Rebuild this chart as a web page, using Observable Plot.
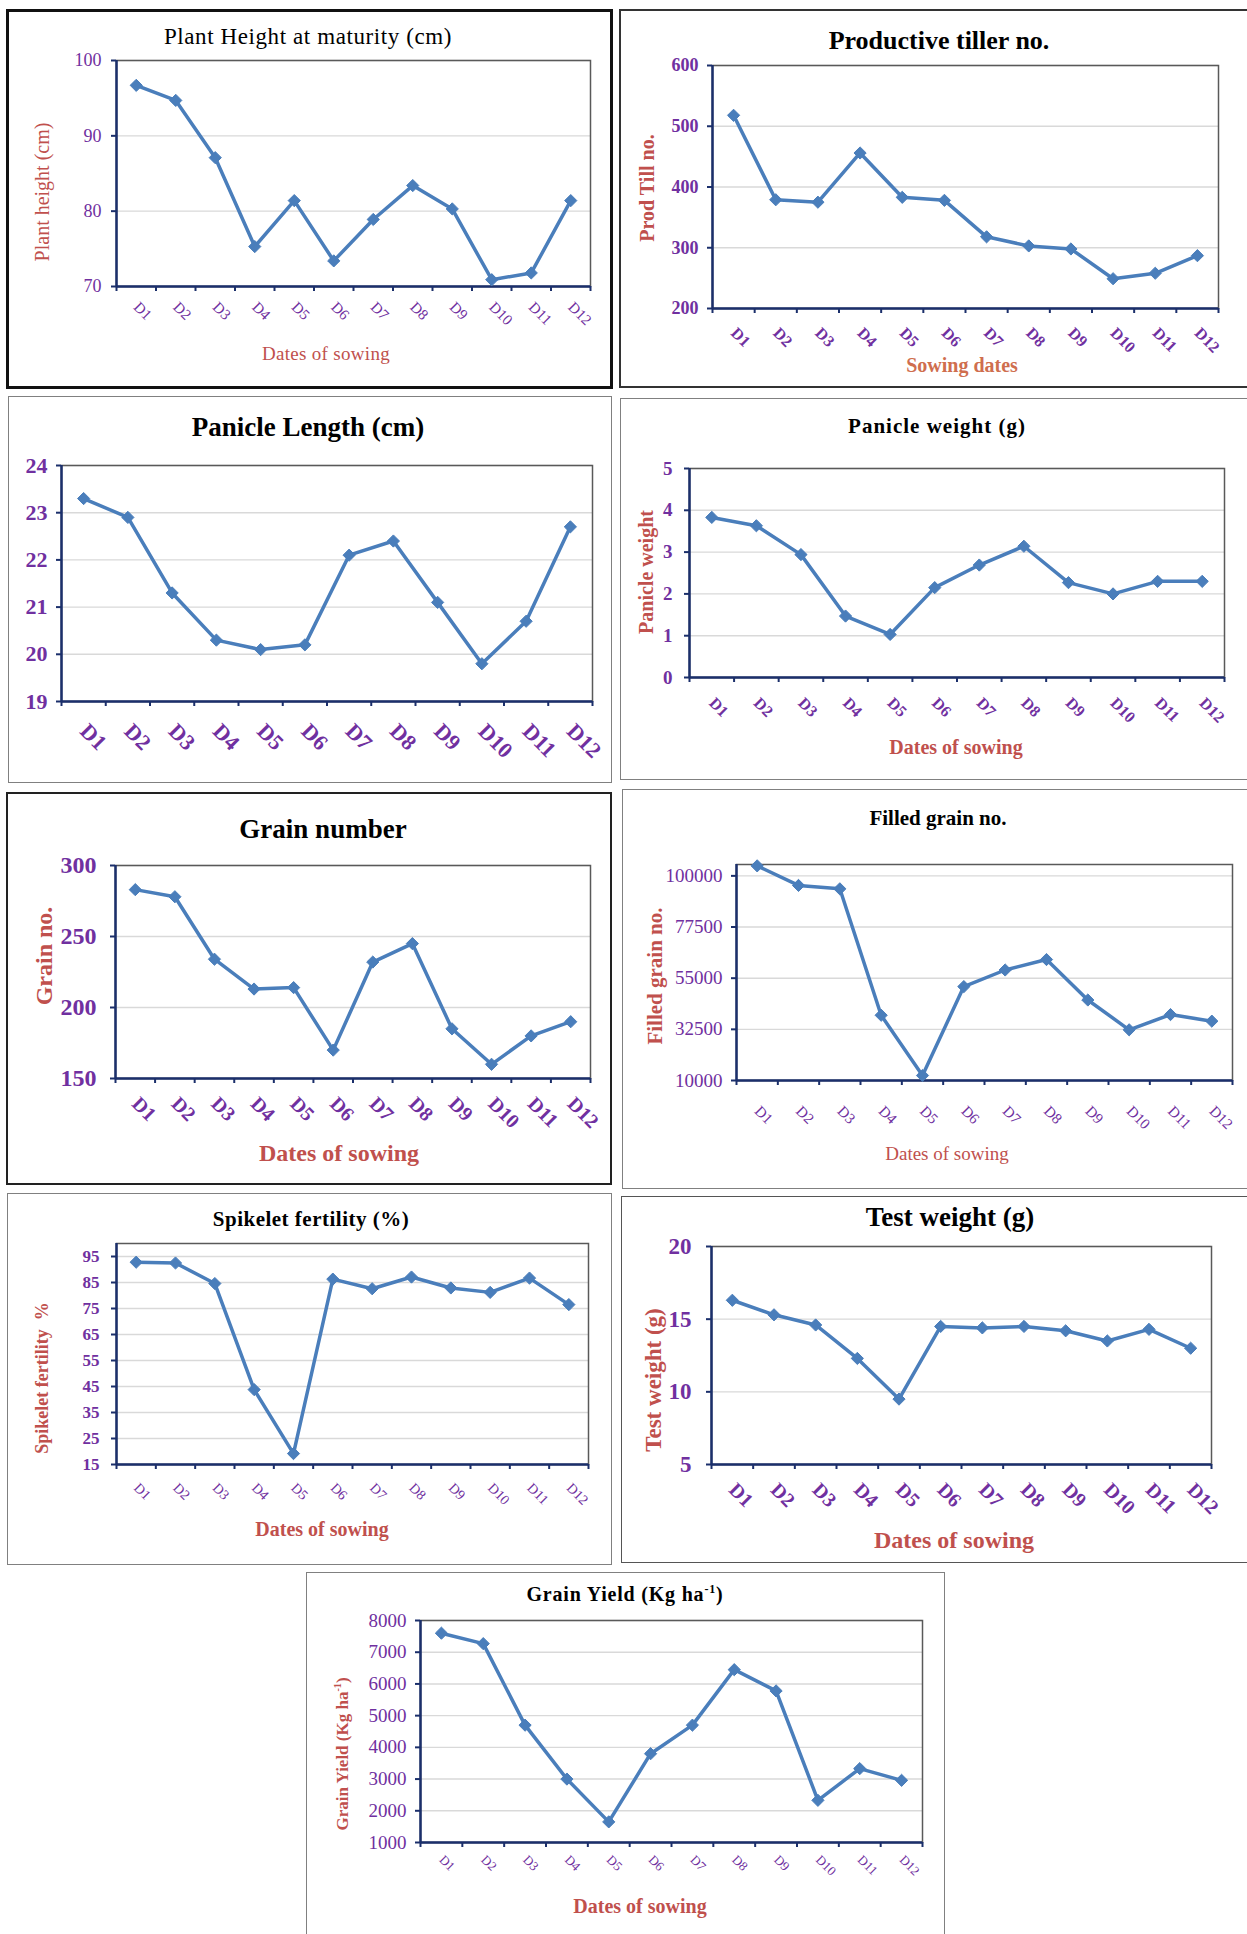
<!DOCTYPE html>
<html><head><meta charset="utf-8">
<script src="https://cdn.jsdelivr.net/npm/d3@7"></script>
<script src="https://cdn.jsdelivr.net/npm/@observablehq/plot@0.6"></script>
<style>
body{margin:0;background:#fff;}
#page{position:relative;width:1247px;height:1934px;overflow:hidden;background:#fff;font-family:"Liberation Serif","Times New Roman",serif;}
.panel{position:absolute;box-sizing:border-box;background:#fff;}
.t{position:absolute;white-space:nowrap;line-height:1;transform:translate(-50%,-50%);}
.t.rot{transform:translate(-50%,-50%) rotate(-90deg);}
.chart{position:absolute;}
sup{font-size:0.6em;line-height:0;}
</style></head><body><div id="page"></div>
<script>
// ---------- data ----------
const categories = ["D1","D2","D3","D4","D5","D6","D7","D8","D9","D10","D11","D12"];
const plantHeight = [96.7, 94.7, 87.1, 75.3, 81.4, 73.4, 78.9, 83.4, 80.3, 70.9, 71.8, 81.4];
const prodTillers = [518, 379, 375, 456, 383, 378, 318, 303, 298, 249, 258, 287];
const panicleLength = [23.3, 22.9, 21.3, 20.3, 20.1, 20.2, 22.1, 22.4, 21.1, 19.8, 20.7, 22.7];
const panicleWeight = [3.83, 3.63, 2.94, 1.47, 1.03, 2.15, 2.69, 3.14, 2.27, 2.0, 2.3, 2.3];
const grainNumber = [283, 278, 234, 213, 214, 170, 232, 245, 185, 160, 180, 190];
const filledGrain = [104400, 95800, 94300, 38700, 12200, 51300, 58600, 63200, 45400, 32300, 39000, 36100];
const spikeletFertility = [92.8, 92.5, 84.6, 43.8, 19.2, 86.3, 82.6, 87.1, 82.9, 81.2, 86.7, 76.5];
const testWeight = [16.3, 15.3, 14.6, 12.3, 9.5, 14.5, 14.4, 14.5, 14.2, 13.5, 14.3, 13.0];
const grainYield = [7600, 7270, 4700, 3000, 1650, 3800, 4700, 6450, 5780, 2330, 3330, 2960];

// tick labels
const ticksPlantHeight = [70, 80, 90, 100];
const ticksProdTillers = [200, 300, 400, 500, 600];
const ticksPanicleLength = [19, 20, 21, 22, 23, 24];
const ticksPanicleWeight = [0, 1, 2, 3, 4, 5];
const ticksGrainNumber = [150, 200, 250, 300];
const ticksFilledGrain = [10000, 32500, 55000, 77500, 100000];
const ticksSpikelet = [15, 25, 35, 45, 55, 65, 75, 85, 95];
const ticksTestWeight = [5, 10, 15, 20];
const ticksGrainYield = [1000, 2000, 3000, 4000, 5000, 6000, 7000, 8000];

// ---------- styles ----------
const FONT = '"Liberation Serif","Times New Roman",serif';
const PURPLE = "#7030A0", RED = "#C0504D", NAVY = "#1B2F6B", BLUE = "#4A7EBB", GRID = "#D9D9D9", FRAME = "#595959";

const panels = [
  {values: plantHeight, ticks: ticksPlantHeight, domain: [70, 100],
   box: [6, 9, 613, 389], border: "3px solid #111", plot: [116, 60, 590, 286],
   yTick: {size: 18, weight: "normal", pad: 10}, xTick: {size: 15, weight: "normal", pad: 18},
   title: {html: "Plant Height at maturity (cm)", cx: 308, cy: 36, size: 23, weight: "normal", ls: 0.6},
   ylabel: {html: "Plant height (cm)", cx: 42, cy: 192, size: 20, weight: "normal", color: RED},
   xlabel: {html: "Dates of sowing", cx: 326, cy: 353, size: 19, weight: "normal", color: RED, ls: 0.3}},
  {values: prodTillers, ticks: ticksProdTillers, domain: [200, 600],
   box: [619, 9, 1262, 388], border: "2.5px solid #333", plot: [712, 65, 1218, 308],
   yTick: {size: 18, weight: "bold", pad: 9}, xTick: {size: 16, weight: "bold", pad: 22},
   title: {html: "Productive tiller no.", cx: 939, cy: 41, size: 26, weight: "bold"},
   ylabel: {html: "Prod Till no.", cx: 647, cy: 188, size: 20, weight: "bold", color: RED},
   xlabel: {html: "Sowing dates", cx: 962, cy: 365, size: 20, weight: "bold", color: "#CF6E4E"}},
  {values: panicleLength, ticks: ticksPanicleLength, domain: [19, 24],
   box: [8, 396, 612, 783], border: "1.5px solid #808080", plot: [61, 465, 592, 701],
   yTick: {size: 22, weight: "bold", pad: 9}, xTick: {size: 22, weight: "bold", pad: 26},
   title: {html: "Panicle Length (cm)", cx: 308, cy: 427, size: 27, weight: "bold"}},
  {values: panicleWeight, ticks: ticksPanicleWeight, domain: [0, 5],
   box: [620, 398, 1262, 780], border: "1.5px solid #808080", plot: [689, 468, 1224, 677],
   yTick: {size: 19, weight: "bold", pad: 12}, xTick: {size: 16, weight: "bold", pad: 23},
   title: {html: "Panicle weight (g)", cx: 937, cy: 426, size: 21, weight: "bold", ls: 1},
   ylabel: {html: "Panicle weight", cx: 646, cy: 572, size: 20, weight: "bold", color: RED},
   xlabel: {html: "Dates of sowing", cx: 956, cy: 747, size: 20, weight: "bold", color: RED}},
  {values: grainNumber, ticks: ticksGrainNumber, domain: [150, 300],
   box: [6, 792, 612, 1185], border: "2.5px solid #222", plot: [115, 865, 590, 1078],
   yTick: {size: 24, weight: "bold", pad: 14}, xTick: {size: 20, weight: "bold", pad: 22},
   title: {html: "Grain number", cx: 323, cy: 829, size: 27, weight: "bold"},
   ylabel: {html: "Grain no.", cx: 44, cy: 956, size: 24, weight: "bold", color: RED},
   xlabel: {html: "Dates of sowing", cx: 339, cy: 1153, size: 24, weight: "bold", color: RED}},
  {values: filledGrain, ticks: ticksFilledGrain, domain: [10000, 105000],
   box: [622, 789, 1262, 1189], border: "1.5px solid #808080", plot: [736, 864, 1232, 1080],
   yTick: {size: 19, weight: "normal", pad: 9}, xTick: {size: 15, weight: "normal", pad: 28},
   title: {html: "Filled grain no.", cx: 938, cy: 818, size: 21, weight: "bold"},
   ylabel: {html: "Filled grain no.", cx: 655, cy: 976, size: 21, weight: "bold", color: RED},
   xlabel: {html: "Dates of sowing", cx: 947, cy: 1153, size: 19, weight: "normal", color: RED}},
  {values: spikeletFertility, ticks: ticksSpikelet, domain: [15, 100],
   box: [7, 1193, 612, 1565], border: "1.5px solid #808080", plot: [116, 1243, 588, 1464],
   yTick: {size: 17, weight: "bold", pad: 12}, xTick: {size: 14, weight: "normal", pad: 21},
   title: {html: "Spikelet fertility (%)", cx: 311, cy: 1219, size: 21, weight: "bold", ls: 0.5},
   ylabel: {html: "Spikelet fertility&nbsp; %", cx: 42, cy: 1378, size: 18, weight: "bold", color: RED},
   xlabel: {html: "Dates of sowing", cx: 322, cy: 1529, size: 20, weight: "bold", color: RED}},
  {values: testWeight, ticks: ticksTestWeight, domain: [5, 20],
   box: [621, 1196, 1262, 1563], border: "1.5px solid #555", plot: [711, 1246, 1211, 1464],
   yTick: {size: 23, weight: "bold", pad: 15}, xTick: {size: 20, weight: "bold", pad: 22},
   title: {html: "Test weight (g)", cx: 950, cy: 1217, size: 27, weight: "bold"},
   ylabel: {html: "Test weight (g)", cx: 653, cy: 1380, size: 23, weight: "bold", color: RED},
   xlabel: {html: "Dates of sowing", cx: 954, cy: 1540, size: 24, weight: "bold", color: RED}},
  {values: grainYield, ticks: ticksGrainYield, domain: [1000, 8000],
   box: [306, 1572, 945, 1945], border: "1.5px solid #808080", plot: [420, 1620, 922, 1842],
   yTick: {size: 19, weight: "normal", pad: 9}, xTick: {size: 13, weight: "normal", pad: 15},
   title: {html: "Grain Yield (Kg ha<sup>-1</sup>)", cx: 625, cy: 1594, size: 20, weight: "bold", ls: 0.8},
   ylabel: {html: "Grain Yield (Kg ha<sup>-1</sup>)", cx: 342, cy: 1754, size: 17, weight: "bold", color: RED},
   xlabel: {html: "Dates of sowing", cx: 640, cy: 1906, size: 20, weight: "bold", color: RED}}
];

const page = document.getElementById("page");

function addText(t, rotate) {
  if (!t) return;
  const el = document.createElement("div");
  el.className = "t" + (rotate ? " rot" : "");
  el.innerHTML = t.html;
  Object.assign(el.style, {
    left: t.cx + "px", top: t.cy + "px", fontSize: t.size + "px",
    fontWeight: t.weight, color: t.color || "#000",
    letterSpacing: (t.ls || 0) + "px"
  });
  page.appendChild(el);
}

const xDomain = [0, categories.length];
const boundaries = d3.range(categories.length + 1);
const centers = categories.map((c, i) => i + 0.5);

for (const p of panels) {
  const [bx0, by0, bx1, by1] = p.box;
  const box = document.createElement("div");
  box.className = "panel";
  Object.assign(box.style, {left: bx0 + "px", top: by0 + "px", width: (bx1 - bx0) + "px", height: (by1 - by0) + "px", border: p.border});
  page.appendChild(box);

  const [px0, py0, px1, py1] = p.plot;
  const mL = 70, mR = 6, mT = 6, mB = 80;
  const data = p.values.map((v, i) => ({cat: categories[i], v}));
  const xOf = d => categories.indexOf(d.cat) + 0.5;

  const chart = Plot.plot({
    width: px1 - px0 + mL + mR, height: py1 - py0 + mT + mB,
    marginLeft: mL, marginRight: mR, marginTop: mT, marginBottom: mB,
    style: {overflow: "visible", background: "none", fontFamily: FONT},
    x: {domain: xDomain, axis: null, label: null},
    y: {domain: p.domain, axis: null, label: null},
    marks: [
      Plot.gridY(p.ticks, {stroke: GRID, strokeOpacity: 1, strokeWidth: 1.4}),
      Plot.frame({stroke: FRAME, strokeWidth: 1.5}),
      Plot.axisY(p.ticks, {label: null, tickSize: 5, tickFormat: () => "", color: NAVY, strokeWidth: 2}),
      Plot.axisY(p.ticks, {label: null, tickSize: 5, tickPadding: p.yTick.pad, tickFormat: d => String(d), color: PURPLE, strokeOpacity: 0,
        fontSize: p.yTick.size, fontWeight: p.yTick.weight, fontFamily: FONT}),
      Plot.ruleX([xDomain[0]], {stroke: NAVY, strokeWidth: 2.5}),
      Plot.ruleY([p.domain[0]], {stroke: NAVY, strokeWidth: 2.5}),
      Plot.axisX(boundaries, {label: null, tickSize: 5, tickFormat: () => "", color: NAVY, strokeWidth: 2}),
      Plot.axisX(centers, {label: null, tickSize: 0, tickPadding: p.xTick.pad, tickRotate: 45,
        tickFormat: v => categories[Math.floor(v)], color: PURPLE,
        fontSize: p.xTick.size, fontWeight: p.xTick.weight, fontFamily: FONT}),
      Plot.line(data, {x: xOf, y: "v", stroke: BLUE, strokeWidth: 3.5, strokeLinejoin: "round"}),
      Plot.dot(data, {x: xOf, y: "v", symbol: "diamond2", r: 5.5, fill: BLUE, stroke: BLUE, strokeWidth: 1})
    ]
  });
  chart.classList.add("chart");
  chart.style.left = (px0 - mL) + "px";
  chart.style.top = (py0 - mT) + "px";
  page.appendChild(chart);

  addText(p.title, false);
  addText(p.ylabel, true);
  addText(p.xlabel, false);
}
</script>
</body></html>
